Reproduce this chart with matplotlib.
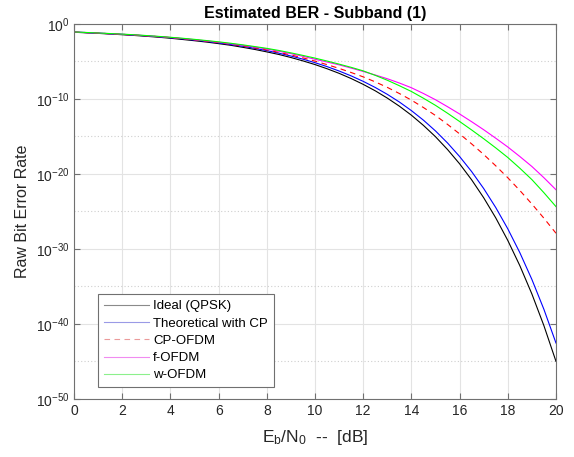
import matplotlib
matplotlib.use("Agg")
import matplotlib.pyplot as plt
import numpy as np
from matplotlib.ticker import FixedLocator, LogFormatterSciNotation, NullFormatter

plt.rcParams['font.family'] = ['Liberation Sans', 'DejaVu Sans']
plt.rcParams['mathtext.fontset'] = 'custom'
plt.rcParams['mathtext.rm'] = 'Liberation Sans'
plt.rcParams['mathtext.it'] = 'Liberation Sans'

# Eb/N0 in dB (0 .. 20 in 0.5 dB steps)
ebn0_db = [0.0, 0.5, 1.0, 1.5, 2.0, 2.5, 3.0, 3.5, 4.0, 4.5, 5.0, 5.5, 6.0, 6.5, 7.0, 7.5,
           8.0, 8.5, 9.0, 9.5, 10.0, 10.5, 11.0, 11.5, 12.0, 12.5, 13.0, 13.5, 14.0, 14.5,
           15.0, 15.5, 16.0, 16.5, 17.0, 17.5, 18.0, 18.5, 19.0, 19.5, 20.0]

# log10 of BER
ideal_qpsk = [-1.10, -1.175, -1.25, -1.338, -1.43, -1.528, -1.64, -1.761, -1.90, -2.064,
              -2.23, -2.412, -2.62, -2.84, -3.11, -3.394, -3.72, -4.065, -4.47, -4.921,
              -5.41, -5.967, -6.58, -7.274, -8.05, -8.91, -9.88, -10.957, -12.16, -13.522,
              -15.03, -16.74, -18.64, -20.779, -23.17, -25.85, -28.86, -32.224, -36.00, -40.234,
              -44.98]
theo_cp = [-1.07, -1.145, -1.22, -1.30, -1.38, -1.48, -1.58, -1.70, -1.83, -1.98,
           -2.14, -2.32, -2.52, -2.74, -2.97, -3.25, -3.55, -3.89, -4.27, -4.69,
           -5.16, -5.683, -6.27, -6.92, -7.65, -8.466, -9.38, -10.401, -11.55, -12.826,
           -14.26, -15.866, -17.67, -19.681, -21.94, -24.472, -27.31, -30.491, -34.06, -38.057,
           -42.54]
cp_ofdm = [-1.07, -1.145, -1.22, -1.30, -1.38, -1.475, -1.57, -1.69, -1.81, -1.955,
           -2.11, -2.29, -2.48, -2.69, -2.92, -3.18, -3.46, -3.78, -4.13, -4.52,
           -4.95, -5.42, -5.92, -6.47, -7.05, -7.72, -8.45, -9.27, -10.15, -11.14,
           -12.20, -13.39, -14.65, -15.99, -17.40, -18.91, -20.50, -22.20, -24.00, -25.90,
           -27.90]
f_ofdm = [-1.07, -1.14, -1.21, -1.29, -1.37, -1.46, -1.56, -1.675, -1.80, -1.94,
          -2.09, -2.255, -2.43, -2.63, -2.84, -3.08, -3.33, -3.63, -3.95, -4.31,
          -4.70, -5.07, -5.45, -5.88, -6.33, -6.80, -7.30, -7.87, -8.50, -9.27,
          -10.10, -11.03, -12.00, -13.03, -14.10, -15.23, -16.40, -17.67, -19.00, -20.50,
          -22.10]
w_ofdm = [-1.06, -1.13, -1.20, -1.275, -1.35, -1.44, -1.54, -1.65, -1.77, -1.90,
          -2.05, -2.21, -2.38, -2.57, -2.78, -3.01, -3.25, -3.53, -3.85, -4.19,
          -4.55, -4.94, -5.35, -5.78, -6.25, -6.85, -7.50, -8.23, -9.00, -9.90,
          -10.85, -11.90, -13.00, -14.13, -15.30, -16.52, -17.80, -19.23, -20.75, -22.50,
          -24.35]

series = [
    ("Ideal (QPSK)", ideal_qpsk, 'black', '#8a8a8a', '-'),
    ("Theoretical with CP", theo_cp, 'blue', '#9a9ae6', '-'),
    ("CP-OFDM", cp_ofdm, 'red', '#eb9a9a', (0, (5, 4))),
    ("f-OFDM", f_ofdm, 'magenta', '#f08cf0', '-'),
    ("w-OFDM", w_ofdm, '#00ff00', '#8cf08c', '-'),
]

fig = plt.figure(figsize=(5.74, 4.57), dpi=100)
ax = fig.add_axes([0.129, 0.127, 0.8396, 0.8205])

x = np.array(ebn0_db, dtype=float)
for name, vals, col, lcol, ls in series:
    ax.semilogy(x, 10.0 ** np.array(vals), label=name, lw=0.8, color=col, ls=ls)

ax.set_xlim(0, 20)
ax.set_ylim(1e-50, 1e0)
ax.set_xticks(np.arange(0, 21, 2))
ax.yaxis.set_major_locator(FixedLocator([10.0 ** k for k in range(-50, 1, 10)]))
ax.yaxis.set_minor_locator(FixedLocator([10.0 ** k for k in range(-45, 0, 10)]))
ax.yaxis.set_major_formatter(LogFormatterSciNotation())
ax.yaxis.set_minor_formatter(NullFormatter())

ax.grid(True, which='major', color='#e3e3e3', lw=0.8, ls='-')
ax.grid(True, which='minor', axis='y', color='#cfcfcf', lw=0.8, ls=(0, (1, 2)))
ax.set_axisbelow(True)

for sp in ax.spines.values():
    sp.set_color('#707070')
    sp.set_linewidth(0.8)
ax.tick_params(which='both', direction='in', top=True, right=True, colors='#707070',
               labelcolor='#262626', labelsize=10)
ax.tick_params(which='major', length=4)
ax.tick_params(which='minor', length=0)

ax.set_title('Estimated BER - Subband (1)', fontsize=11.5, fontweight='bold', pad=4)
ax.set_xlabel('E$_\\mathrm{b}$/N$_\\mathrm{0}$  --  [dB]', fontsize=12.5, color='#262626',
              labelpad=7)
ax.set_ylabel('Raw Bit Error Rate', fontsize=11.5, color='#262626')

leg = ax.legend(loc='lower left', bbox_to_anchor=(0.05, 0.031), borderaxespad=0,
                fontsize=9.5, handlelength=3.4, handletextpad=0.3, borderpad=0.45,
                labelspacing=0.38, frameon=True, fancybox=False, edgecolor='#707070',
                framealpha=1)
leg.get_frame().set_linewidth(0.8)
for line, (_, _, _, lcol, _) in zip(leg.get_lines(), series):
    line.set_color(lcol)

fig.savefig('out.png', dpi=100, facecolor='white')
